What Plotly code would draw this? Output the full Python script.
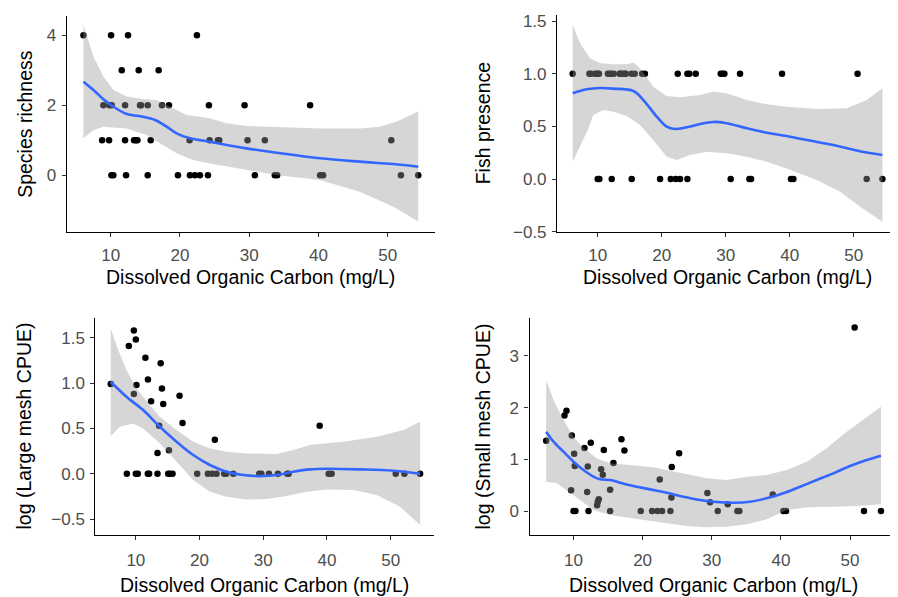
import plotly.graph_objects as go

# ---------------- data ----------------
# Panel 1: Species richness
rich_x = [6.06, 10.05, 12.5, 22.45, 11.59, 14.04, 16.92,
          8.94, 9.81, 10.14, 12.07, 14.23, 14.38, 15.34, 17.4, 18.41, 24.18, 29.33, 38.8,
          8.75, 9.76, 12.07, 13.37, 13.65, 13.85, 15.77, 21.39, 24.28, 25.48, 25.67, 29.76, 32.26, 50.53,
          10.1, 10.38, 12.21, 15.34, 19.71, 21.44, 22.16, 22.88, 24.04, 30.82, 33.7, 34.04, 40.24, 40.67, 51.92, 54.42]
rich_y = [4, 4, 4, 4, 3, 3, 3,
          2, 2, 2, 2, 2, 2, 2, 2, 2, 2, 2, 2,
          1, 1, 1, 1, 1, 1, 1, 1, 1, 1, 1, 1, 1, 1,
          0, 0, 0, 0, 0, 0, 0, 0, 0, 0, 0, 0, 0, 0, 0, 0]
fit1_x = [6.06, 7.5, 8.94, 10.38, 12.31, 14.23, 16.39, 18.08, 19.52, 21.44, 24.33, 26.73, 29.62, 33.94, 40.19, 45.96, 50.77, 54.42]
fit1_y = [2.675, 2.437, 2.17, 1.96, 1.75, 1.69, 1.58, 1.39, 1.2, 1.056, 0.96, 0.865, 0.77, 0.646, 0.486, 0.39, 0.323, 0.247]
up1_x = [6.06, 7.5, 8.94, 10.38, 12.31, 14.71, 16.63, 18.56, 20.96, 24.33, 26.73, 29.62, 33.94, 40.19, 45.96, 48.85, 51.25, 54.42]
up1_y = [4.29, 3.39, 2.82, 2.44, 2.25, 2.17, 2.15, 1.96, 1.72, 1.63, 1.49, 1.41, 1.39, 1.34, 1.34, 1.39, 1.53, 1.82]
lo1_x = [6.06, 7.5, 8.94, 12.31, 15.19, 17.12, 19.52, 21.92, 24.33, 29.62, 33.94, 40.19, 45.96, 50.77, 54.42]
lo1_y = [1.06, 1.29, 1.39, 1.34, 1.15, 0.915, 0.63, 0.44, 0.34, 0.15, 0.01, -0.13, -0.47, -0.89, -1.32]

# Panel 2: Fish presence
fish_x = [6.09, 8.7, 8.99, 9.66, 9.76, 10.1, 10.19, 11.59, 11.98, 12.07, 12.5, 13.42, 13.52, 13.66, 14.0,
          14.24, 14.39, 15.3, 15.78, 16.94, 17.37, 22.5, 24.01, 24.32, 25.31, 29.22, 29.53, 29.79, 32.24, 38.8, 50.6,
          10.0, 10.26, 12.19, 15.31, 19.74, 21.41, 22.19, 22.86, 24.01, 30.78, 33.7, 33.96, 40.2, 40.57, 52.03, 54.48]
fish_y = [1, 1, 1, 1, 1, 1, 1, 1, 1, 1, 1, 1, 1, 1, 1,
          1, 1, 1, 1, 1, 1, 1, 1, 1, 1, 1, 1, 1, 1, 1, 1,
          0, 0, 0, 0, 0, 0, 0, 0, 0, 0, 0, 0, 0, 0, 0, 0]
fit2_x = [6.09, 8.28, 10.36, 12.45, 15.57, 17.14, 19.22, 20.78, 22.08, 23.91, 25.99, 28.07, 30.16, 33.28, 36.41, 39.53, 42.66, 46.82, 50.63, 54.48]
fit2_y = [0.814, 0.852, 0.864, 0.858, 0.836, 0.75, 0.592, 0.497, 0.475, 0.491, 0.523, 0.542, 0.53, 0.481, 0.44, 0.408, 0.37, 0.323, 0.268, 0.228]
up2_x = [6.09, 7.24, 8.8, 10.36, 12.45, 14.53, 15.57, 16.61, 18.7, 20.78, 22.86, 25.99, 28.07, 30.16, 33.28, 36.41, 39.53, 44.22, 48.91, 52.03, 54.48]
up2_y = [1.462, 1.288, 1.146, 1.099, 1.089, 1.089, 1.105, 1.051, 0.877, 0.788, 0.776, 0.798, 0.83, 0.814, 0.75, 0.709, 0.687, 0.665, 0.671, 0.75, 0.861]
lo2_x = [6.09, 8.44, 9.32, 10.89, 12.45, 14.53, 16.61, 18.7, 20.78, 22.34, 24.43, 27.03, 30.16, 33.28, 36.41, 39.53, 44.22, 47.86, 50.99, 54.48]
lo2_y = [0.165, 0.465, 0.608, 0.655, 0.639, 0.598, 0.513, 0.368, 0.212, 0.18, 0.228, 0.26, 0.244, 0.212, 0.165, 0.101, -0.01, -0.12, -0.263, -0.405]

# Panel 3: log (Large mesh CPUE)
large_x = [6.06, 8.9, 9.69, 10.0, 9.69, 10.1, 11.5, 11.9, 12.4, 13.66, 13.4, 13.9, 14.1, 14.3, 15.2, 16.86, 17.33, 22.4, 38.85,
           8.59, 10.0, 10.31, 11.88, 12.09, 13.4, 15.08, 15.34, 15.76, 19.63, 21.31, 21.99, 22.67, 23.87, 24.19, 25.29,
           29.37, 29.69, 30.89, 32.3, 33.77, 33.98, 40.26, 40.73, 50.79, 52.15, 54.61]
large_y = [0.99, 1.41, 1.58, 1.48, 0.88, 0.98, 1.28, 1.04, 0.80, 0.53, 0.23, 1.22, 0.94, 0.77, 0.26, 0.86, 0.56, 0.375, 0.53,
           0, 0, 0, 0, 0, 0, 0, 0, 0, 0, 0, 0, 0, 0, 0, 0,
           0, 0, 0, 0, 0, 0, 0, 0, 0, 0, 0]
fit3_x = [6.06, 8.53, 11.15, 13.77, 16.39, 19.01, 21.62, 24.24, 26.86, 29.48, 32.09, 34.71, 37.33, 39.95, 45.18, 50.42, 54.61]
fit3_y = [1.015, 0.849, 0.702, 0.518, 0.353, 0.206, 0.096, 0.022, -0.015, -0.026, -0.015, 0.022, 0.048, 0.055, 0.048, 0.033, 0.0]
up3_x = [6.06, 7.23, 8.53, 10.1, 12.2, 13.77, 16.39, 19.01, 21.62, 24.24, 27.38, 32.09, 34.71, 37.33, 39.95, 42.57, 47.8, 51.99, 54.61]
up3_y = [1.603, 1.364, 1.143, 0.941, 0.757, 0.629, 0.482, 0.353, 0.279, 0.243, 0.224, 0.217, 0.261, 0.316, 0.335, 0.353, 0.408, 0.482, 0.574]
lo3_x = [6.06, 7.49, 9.58, 11.15, 13.77, 16.39, 19.01, 21.62, 24.24, 27.38, 30.52, 33.66, 36.81, 39.95, 44.14, 47.8, 51.47, 54.61]
lo3_y = [0.415, 0.518, 0.555, 0.5, 0.335, 0.132, -0.07, -0.199, -0.254, -0.283, -0.279, -0.246, -0.199, -0.173, -0.18, -0.235, -0.364, -0.566]

# Panel 4: log (Small mesh CPUE)
small_x = [6.05, 8.7, 8.99, 9.66, 9.76, 10.1, 10.19, 11.59, 11.98, 12.07, 12.5, 13.42, 13.52, 13.66, 14.0,
           14.24, 14.39, 15.3, 15.78, 16.94, 17.37, 22.48, 24.17, 24.22, 25.28, 29.37, 29.76, 32.31, 38.82, 50.67,
           10.0, 10.29, 12.17, 15.3, 19.73, 21.37, 22.14, 22.82, 24.02, 30.87, 33.71, 34.0, 40.36, 40.75, 52.02, 54.48]
small_y = [1.36, 1.85, 1.94, 0.40, 1.46, 1.11, 0.87, 1.22, 0.37, 0.86, 1.32, 0.11, 0.18, 0.23, 0.81,
           0.70, 1.18, 0.41, 0.93, 1.39, 1.17, 0.61, 0.26, 0.85, 1.12, 0.35, 0.17, 0.13, 0.32, 3.55,
           0, 0, 0, 0, 0, 0, 0, 0, 0, 0, 0, 0, 0, 0, 0, 0]
fit4_x = [6.05, 7.11, 8.55, 10, 11.45, 12.89, 13.86, 15.3, 16.75, 18.67, 21.08, 23.49, 25.9, 28.31, 30.72, 33.13, 35.54, 37.95, 40.36, 42.77, 45.18, 47.59, 50, 52.41, 54.48]
fit4_y = [1.535, 1.342, 1.148, 0.955, 0.794, 0.665, 0.613, 0.6, 0.548, 0.484, 0.419, 0.355, 0.277, 0.213, 0.174, 0.161, 0.181, 0.245, 0.342, 0.471, 0.6, 0.729, 0.871, 0.987, 1.071]
up4_x = [6.05, 7.11, 8.55, 10, 11.45, 13.37, 15.3, 17.71, 19.64, 21.57, 23.49, 25.9, 29.28, 32.17, 35.06, 37.95, 40.84, 43.73, 46.63, 49.52, 52.41, 54.48]
up4_y = [2.535, 2.148, 1.761, 1.439, 1.213, 1.019, 0.923, 0.89, 0.858, 0.845, 0.794, 0.729, 0.632, 0.6, 0.665, 0.697, 0.794, 0.955, 1.213, 1.535, 1.826, 2.019]
lo4_x = [6.05, 7.59, 9.04, 10.96, 12.89, 15.3, 17.71, 20.6, 23.49, 26.39, 29.28, 32.17, 35.06, 37.95, 40.84, 43.73, 47.59, 50.96, 54.48]
lo4_y = [0.568, 0.535, 0.406, 0.213, 0.019, -0.077, -0.123, -0.174, -0.239, -0.29, -0.316, -0.303, -0.258, -0.161, 0.019, 0.071, 0.084, 0.097, 0.129]

x_ticks = [10, 20, 30, 40, 50]
x_title = "Dissolved Organic Carbon (mg/L)"
y_titles = ["Species richness", "Fish presence", "log (Large mesh CPUE)", "log (Small mesh CPUE)"]
y_ticks = [[0, 2, 4], [-0.5, 0.0, 0.5, 1.0, 1.5], [-0.5, 0.0, 0.5, 1.0, 1.5], [0, 1, 2, 3]]
y_ticktext = [["0", "2", "4"], ["\u22120.5", "0.0", "0.5", "1.0", "1.5"],
              ["\u22120.5", "0.0", "0.5", "1.0", "1.5"], ["0", "1", "2", "3"]]
y_ranges = [[-1.61, 4.55], [-0.5, 1.557], [-0.676, 1.718], [-0.464, 3.735]]

# ---------------- figure ----------------
OFF = 8                      # the page body adds an 8px margin around the plot div
W, H = 898 - OFF, 597 - OFF
FONT = "Liberation Sans, Arial, sans-serif"
panels = [
    (rich_x, rich_y, fit1_x, fit1_y, up1_x, up1_y, lo1_x, lo1_y),
    (fish_x, fish_y, fit2_x, fit2_y, up2_x, up2_y, lo2_x, lo2_y),
    (large_x, large_y, fit3_x, fit3_y, up3_x, up3_y, lo3_x, lo3_y),
    (small_x, small_y, fit4_x, fit4_y, up4_x, up4_y, lo4_x, lo4_y),
]
# target pixel boxes in the window (left, right, top, bottom)
boxes = [(66.7, 435.0, 16.0, 231.7), (557.0, 897.5, 15.0, 231.7),
         (95.3, 434.3, 318.0, 535.0), (529.5, 897.3, 318.0, 535.0)]
ytitle_x = [25, 483, 23, 482]
xtitle_gap = [45.5, 45.5, 50, 50]


def fx_(px):
    return (px - OFF) / W


def fy_(py):
    return 1 - (py - OFF) / H


fig = go.Figure()
annotations = []
for i, (px, py, fx, fy, ux, uy, lx, ly) in enumerate(panels):
    n = "" if i == 0 else str(i + 1)
    xa, ya = "x" + n, "y" + n
    fig.add_trace(go.Scatter(x=px, y=py, mode="markers", xaxis=xa, yaxis=ya,
                             marker=dict(color="black", size=6.5, line=dict(width=0)),
                             showlegend=False, hoverinfo="skip"))
    fig.add_trace(go.Scatter(x=ux + lx[::-1], y=uy + ly[::-1], mode="lines", fill="toself",
                             fillcolor="rgba(153,153,153,0.4)", line=dict(width=0),
                             xaxis=xa, yaxis=ya, showlegend=False, hoverinfo="skip"))
    fig.add_trace(go.Scatter(x=fx, y=fy, mode="lines", xaxis=xa, yaxis=ya,
                             line=dict(color="#3366FF", width=2.6, shape="spline", smoothing=1),
                             showlegend=False, hoverinfo="skip"))
    l, r, t, b = boxes[i]
    axis_common = dict(showgrid=False, zeroline=False, showline=True, linecolor="black", linewidth=1.1,
                       ticks="outside", ticklen=4, tickwidth=1, tickcolor="#333333", automargin=False,
                       tickfont=dict(family=FONT, size=17, color="#4D4D4D"))
    fig.update_layout(**{
        ("xaxis" + n): dict(domain=[fx_(l), fx_(r)], anchor=ya, range=[3.64, 56.84],
                             tickmode="array", tickvals=x_ticks, ticktext=[str(v) for v in x_ticks],
                             ticklabelstandoff=4 if i < 2 else 6, **axis_common),
        ("yaxis" + n): dict(domain=[fy_(b), fy_(t)], anchor=xa, range=y_ranges[i],
                             tickmode="array", tickvals=y_ticks[i], ticktext=y_ticktext[i],
                             ticklabelstandoff=2, **axis_common),
    })
    annotations.append(dict(text=x_title, xref="paper", yref="paper", x=fx_((l + r) / 2),
                            y=fy_(b + xtitle_gap[i]), xanchor="center", yanchor="middle", showarrow=False,
                            font=dict(family=FONT, size=19.5, color="black")))
    annotations.append(dict(text=y_titles[i], xref="paper", yref="paper", x=fx_(ytitle_x[i]),
                            y=fy_((t + b) / 2), xanchor="center", yanchor="middle", showarrow=False,
                            textangle=-90, font=dict(family=FONT, size=19.5, color="black")))

fig.update_layout(template="none", width=W, height=H, margin=dict(l=0, r=0, t=0, b=0),
                  paper_bgcolor="white", plot_bgcolor="white",
                  annotations=annotations, showlegend=False)
fig.write_html("out.html")
